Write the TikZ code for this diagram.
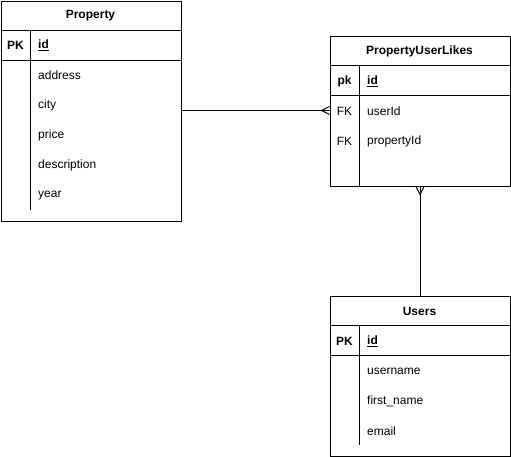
\documentclass[tikz,border=0pt]{standalone}
\usepackage{fontspec}
\setmainfont{Liberation Sans}
\usetikzlibrary{positioning}
\begin{document}
\begin{tikzpicture}[x=1pt,y=-1pt,
  every node/.style={font=\fontsize{12}{14}\selectfont, inner sep=0pt},
  tbl/.style={draw=black, line width=1pt, rectangle, anchor=north west, minimum width=180pt},
  ln/.style={draw=black, line width=1pt},
  title/.style={font=\fontsize{12}{14}\selectfont\bfseries},
  key/.style={anchor=center},
  fld/.style={anchor=west}
]
\useasboundingbox (0,0) rectangle (511,456);
\fill[white] (0,0) rectangle (511,456);

% ---------- Property ----------
\node[tbl, minimum height=220pt] (prop) at (0.5,0.5) {};
\draw[ln] (0.5,30.5) -- (180.5,30.5);
\draw[ln] (0.5,60.5) -- (180.5,60.5);
\draw[ln] (30.5,30.5) -- (30.5,210);
\node[title] (propT) at (90.5,15.5) {Property};
\node[key, font=\fontsize{12}{14}\selectfont\bfseries] (propPK) at (15.5,45.5) {PK};
\node[fld, font=\fontsize{12}{14}\selectfont\bfseries] (propId) at (38,45.5) {\underline{id}};
\node[fld] (propA) at (38,75.5) {address};
\node[fld] (propC) at (38,105.5) {city};
\node[fld] (propP) at (38,135.5) {price};
\node[fld] (propD) at (38,165.5) {description};
\node[fld] (propY) at (38,195.5) {year};

% ---------- PropertyUserLikes ----------
\node[tbl, minimum height=150pt] (pul) at (329.5,35.5) {};
\draw[ln] (329.5,65.5) -- (509.5,65.5);
\draw[ln] (329.5,95.5) -- (509.5,95.5);
\draw[ln] (359.5,65.5) -- (359.5,185.5);
\node[title] (pulT) at (419.5,51) {PropertyUserLikes};
\node[key, font=\fontsize{12}{14}\selectfont\bfseries] (pulPK) at (344.5,81) {pk};
\node[fld, font=\fontsize{12}{14}\selectfont\bfseries] (pulId) at (367,81) {\underline{id}};
\node[key] (pulFK1) at (344.5,111) {FK};
\node[fld] (pulU) at (367,111) {userId};
\node[key] (pulFK2) at (344.5,141) {FK};
\node[fld] (pulP) at (367,141) {propertyId};

% ---------- Users ----------
\node[tbl, minimum height=160pt] (usr) at (329.5,295.5) {};
\draw[ln] (329.5,325.5) -- (509.5,325.5);
\draw[ln] (329.5,355.5) -- (509.5,355.5);
\draw[ln] (359.5,325.5) -- (359.5,445);
\node[title] (usrT) at (419.5,311) {Users};
\node[key, font=\fontsize{12}{14}\selectfont\bfseries] (usrPK) at (344.5,341) {PK};
\node[fld, font=\fontsize{12}{14}\selectfont\bfseries] (usrId) at (367,341) {\underline{id}};
\node[fld] (usrU) at (367,371) {username};
\node[fld] (usrF) at (367,401) {first\_name};
\node[fld] (usrE) at (367,431) {email};

% ---------- connectors ----------
\coordinate (c1a) at (prop.east |- 0,110.5);
\coordinate (c1b) at (pul.west |- 0,110.5);
\draw[ln] (c1a) -- (c1b);
\draw[ln] (c1b) ++(-8,0) -- ++(8,-4);
\draw[ln] (c1b) ++(-8,0) -- ++(8,4);

\coordinate (c2a) at (pul.south);
\coordinate (c2b) at (usr.north);
\draw[ln] (c2a) -- (c2b);
\draw[ln] (c2a) ++(0,8) -- ++(-4,-8);
\draw[ln] (c2a) ++(0,8) -- ++(4,-8);
\end{tikzpicture}
\end{document}
